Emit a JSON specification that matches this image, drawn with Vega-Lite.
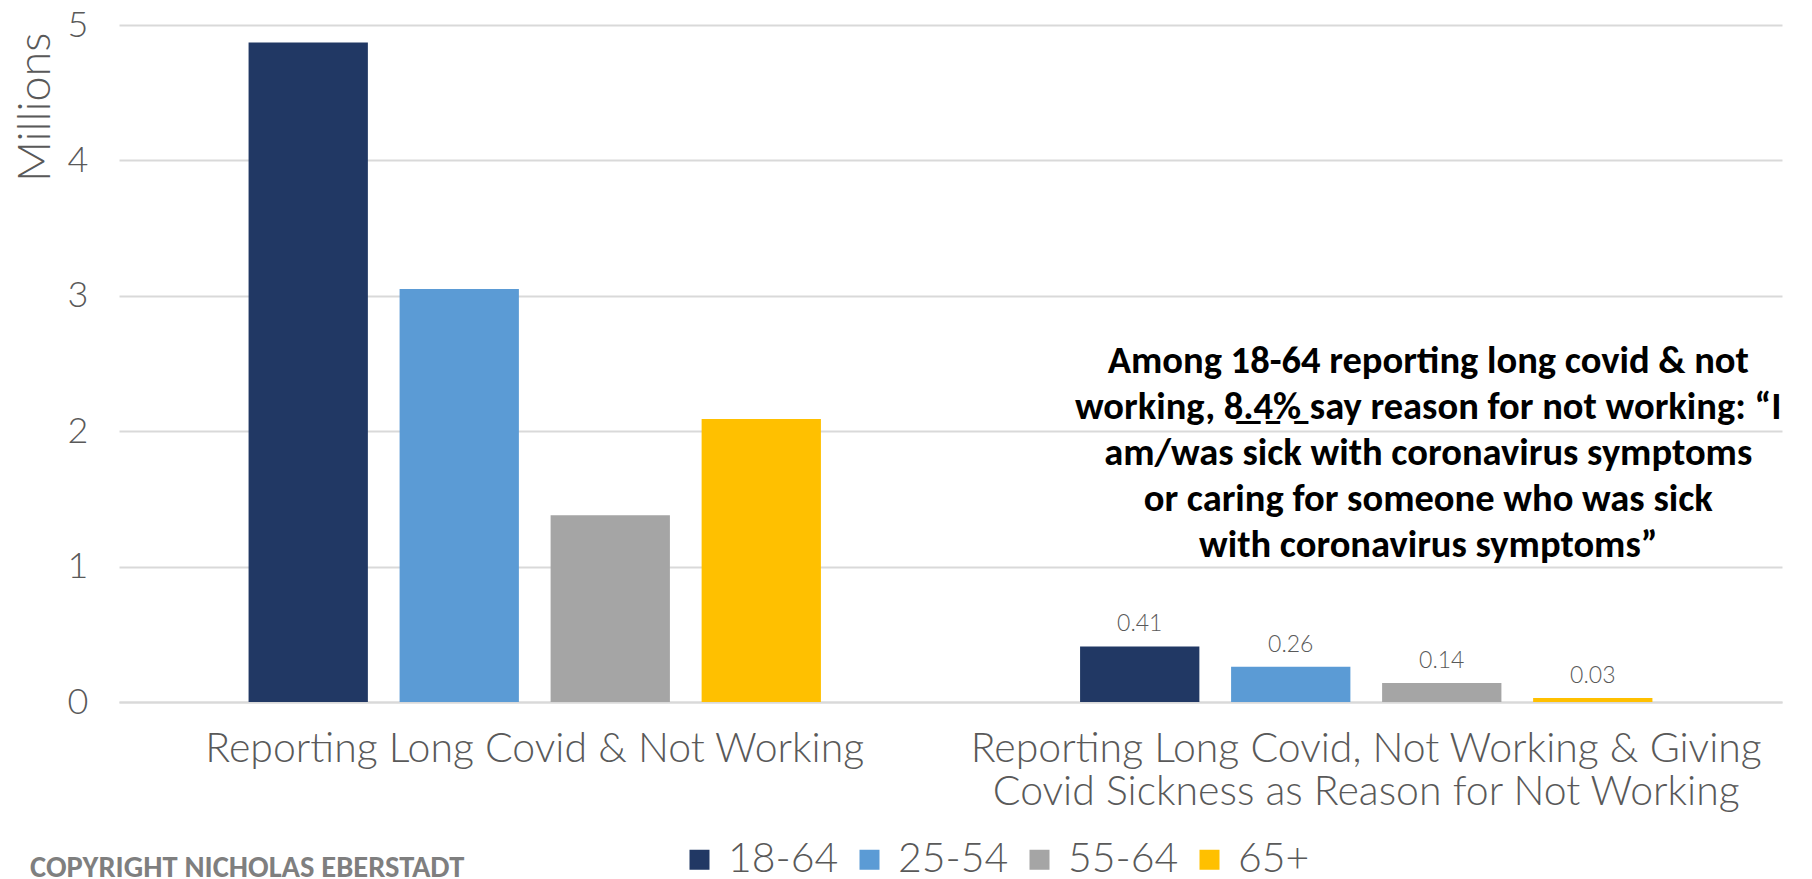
{
  "$schema": "https://vega.github.io/schema/vega-lite/v6.json",
  "autosize": {"type": "none"},
  "padding": {"left": 119, "top": 25, "right": 30, "bottom": 177},
  "width": 1663,
  "height": 677,
  "background": "white",
  "title": {
    "text": "COPYRIGHT NICHOLAS EBERSTADT",
    "orient": "bottom",
    "anchor": "start",
    "frame": "group",
    "dx": -89,
    "offset": -27,
    "font": "Carlito, Liberation Sans Narrow, Arial Narrow, sans-serif",
    "fontSize": 30.5,
    "fontWeight": "bold",
    "color": "#7f7f7f"
  },
  "config": {"view": {"stroke": null}},
  "data": {
    "values": [
      {"group": "Reporting Long Covid & Not Working", "age": "18-64", "value": 4.87},
      {"group": "Reporting Long Covid & Not Working", "age": "25-54", "value": 3.05},
      {"group": "Reporting Long Covid & Not Working", "age": "55-64", "value": 1.38},
      {"group": "Reporting Long Covid & Not Working", "age": "65+", "value": 2.09},
      {"group": "Reporting Long Covid, Not Working & Giving|Covid Sickness as Reason for Not Working", "age": "18-64", "value": 0.41},
      {"group": "Reporting Long Covid, Not Working & Giving|Covid Sickness as Reason for Not Working", "age": "25-54", "value": 0.26},
      {"group": "Reporting Long Covid, Not Working & Giving|Covid Sickness as Reason for Not Working", "age": "55-64", "value": 0.14},
      {"group": "Reporting Long Covid, Not Working & Giving|Covid Sickness as Reason for Not Working", "age": "65+", "value": 0.03}
    ]
  },
  "layer": [
    {
      "mark": {"type": "bar"},
      "encoding": {
        "x": {
          "field": "group",
          "type": "nominal",
          "sort": null,
          "scale": {"paddingInner": 0, "paddingOuter": 0},
          "axis": {
            "title": null,
            "labelAngle": 0,
            "labelFont": "Lato",
            "labelFontWeight": 300,
            "labelFontSize": 41,
            "labelColor": "#595959",
            "labelPadding": 27,
            "labelLimit": 1000,
            "labelLineHeight": 43,
            "labelExpr": "split(datum.label, '|')",
            "ticks": false,
            "domain": true,
            "domainColor": "#d9d9d9",
            "domainWidth": 2,
            "grid": false
          }
        },
        "xOffset": {
          "field": "age",
          "type": "nominal",
          "sort": ["18-64", "25-54", "55-64", "65+"],
          "scale": {"paddingInner": 0.21, "paddingOuter": 0.858}
        },
        "y": {
          "field": "value",
          "type": "quantitative",
          "scale": {"domain": [0, 5], "nice": false},
          "axis": {
            "values": [0, 1, 2, 3, 4, 5],
            "format": "d",
            "title": "Millions",
            "titleFont": "Lato",
            "titleFontWeight": 300,
            "titleFontSize": 45,
            "titleColor": "#595959",
            "titleAnchor": "end",
            "titleAlign": "right",
            "titleY": 7,
            "titlePadding": 9,
            "labelFont": "Lato",
            "labelFontWeight": 300,
            "labelFontSize": 36,
            "labelColor": "#595959",
            "labelPadding": 31,
            "ticks": false,
            "domain": false,
            "grid": true,
            "gridColor": "#d9d9d9",
            "gridWidth": 2
          }
        },
        "color": {
          "field": "age",
          "type": "nominal",
          "scale": {
            "domain": ["18-64", "25-54", "55-64", "65+"],
            "range": ["#213864", "#5b9bd5", "#a5a5a5", "#ffc000"]
          },
          "legend": {
            "orient": "none",
            "legendX": 560,
            "legendY": 814,
            "direction": "horizontal",
            "title": null,
            "symbolType": "square",
            "symbolSize": 400,
            "symbolStrokeWidth": 0,
            "labelFont": "Lato",
            "labelFontWeight": 300,
            "labelFontSize": 41,
            "labelColor": "#595959",
            "labelOffset": 8,
            "columnPadding": 10,
            "padding": 0
          }
        }
      }
    },
    {
      "transform": [
        {"filter": {"field": "group", "equal": "Reporting Long Covid, Not Working & Giving|Covid Sickness as Reason for Not Working"}}
      ],
      "mark": {
        "type": "text",
        "baseline": "alphabetic",
        "align": "center",
        "dy": -15,
        "font": "Lato",
        "fontWeight": 300,
        "fontSize": 23,
        "color": "#595959"
      },
      "encoding": {
        "x": {"field": "group", "type": "nominal", "sort": null},
        "xOffset": {"field": "age", "type": "nominal", "sort": ["18-64", "25-54", "55-64", "65+"]},
        "y": {"field": "value", "type": "quantitative"},
        "text": {"field": "value", "type": "quantitative", "format": ".2f"}
      }
    },
    {
      "data": {"values": [{"note": "annotation"}]},
      "mark": {
        "type": "text",
        "text": [
          "Among 18-64 reporting long covid & not",
          "working, 8̲.̲4̲%̲ say reason for not working: “I",
          "am/was sick with coronavirus symptoms",
          "or caring for someone who was sick",
          "with coronavirus symptoms”"
        ],
        "font": "Carlito, Liberation Sans Narrow, Arial Narrow, sans-serif",
        "fontSize": 38.5,
        "fontWeight": "bold",
        "color": "#000000",
        "align": "center",
        "baseline": "top",
        "lineHeight": 46,
        "dx": 62
      },
      "encoding": {
        "x": {"datum": "Reporting Long Covid, Not Working & Giving|Covid Sickness as Reason for Not Working", "type": "nominal"},
        "y": {"datum": 2.655, "type": "quantitative"}
      }
    }
  ]
}
